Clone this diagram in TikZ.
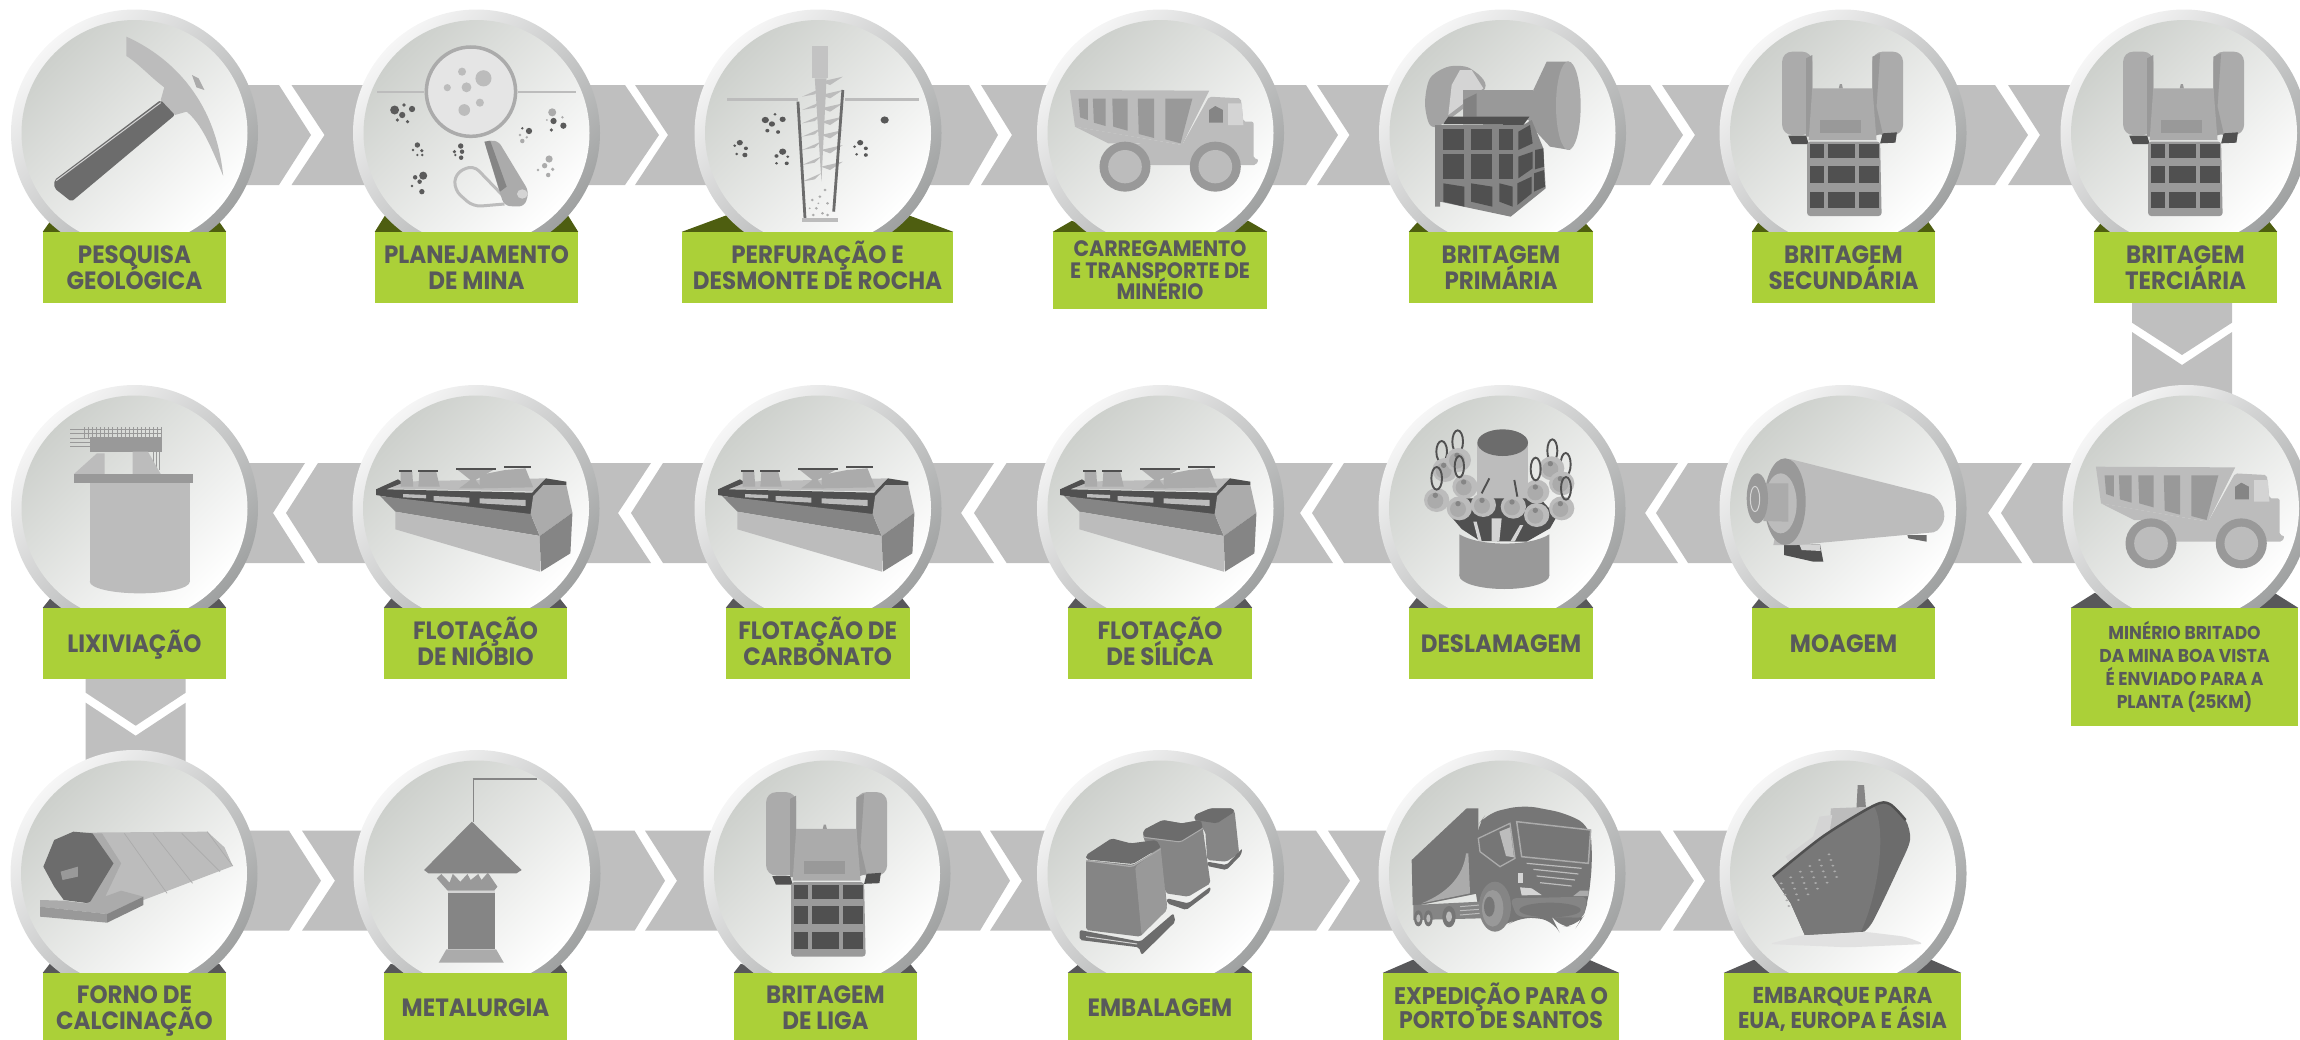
\documentclass[tikz,border=0pt]{standalone}
\usepackage{fontspec}
\usetikzlibrary{calc}
\newfontfamily\labf[FakeStretch=0.92]{Poppins}
\definecolor{bandc}{HTML}{BFBFBF}
\definecolor{greenc}{HTML}{ABD038}
\definecolor{textc}{HTML}{58595B}
\definecolor{olive}{HTML}{4E5E10}
\definecolor{darkf}{HTML}{58585A}
\definecolor{ringa}{HTML}{F6F6F6}
\definecolor{ringb}{HTML}{9FA1A1}
\definecolor{inna}{HTML}{CDD0CC}
\definecolor{innb}{HTML}{FFFFFF}
\definecolor{g1}{HTML}{505050}
\definecolor{g2}{HTML}{6C6C6C}
\definecolor{g3}{HTML}{858585}
\definecolor{g4}{HTML}{999999}
\definecolor{g5}{HTML}{ABABAB}
\definecolor{g6}{HTML}{BCBCBC}
\definecolor{g7}{HTML}{D4D4D4}
\definecolor{trk}{HTML}{767676}
\pgfdeclarelayer{back}
\pgfdeclarelayer{mid}
\tikzset{
  zm/.style n args={3}{shift={(#1,#2)},xscale=1/#3,yscale=1/3},
  bandf/.style={fill=bandc},
  discout/.style={circle,inner sep=0pt,minimum size=247pt,shade,top color=ringa,bottom color=ringb,shading angle=45},
  discin/.style={circle,inner sep=0pt,minimum size=226pt,shade,top color=inna,bottom color=innb,shading angle=45},
  labbox/.style={fill=greenc,inner sep=0pt,text=textc,align=center},
}
\newcommand\mydisc[3]{\node[discout] (#1) at (#2,#3) {}; \node[discin] (#1i) at (#1) {};}
\newcommand\mylab[8]{\node[labbox,minimum width={(#3)-(#2)},minimum height={(#5)-(#4)},
  font={\labf\bfseries\fontsize{#6}{#7}\selectfont}] (#1) at ({((#2)+(#3))/2},{((#4)+(#5))/2}) {#8};}
\newcommand\capln[1]{\rule{0pt}{0.7em}\smash{#1}}
\newcommand\chev[8]{\fill[bandf] (#1 |- 0,#3) -- (#5,#3) -- (#6,{((#3)+(#4))/2}) -- (#5,#4) -- (#1 |- 0,#4) -- cycle;
  \fill[bandf] (#2 |- 0,#3) -- (#7,#3) -- (#8,{((#3)+(#4))/2}) -- (#7,#4) -- (#2 |- 0,#4) -- cycle;}
\newcommand\downarr[9]{\fill[bandf] (#3,0 |- #1.south) -- (#3,#6) -- (#5,#7) -- (#4,#6) -- (#4,0 |- #1.south) -- cycle;
  \fill[bandf] (#3,0 |- #2) -- (#3,#8) -- (#5,#9) -- (#4,#8) -- (#4,0 |- #2) -- cycle;}
\newcommand\folds[4]{\fill[#1] (#2.north west) -- ++(#3,-#4) -- ++(30,#4) -- cycle;
  \fill[#1] (#2.north east) -- ++(-#3,-#4) -- ++(-30,#4) -- cycle;}
\newcommand\spots[2]{\foreach \a/\b/\c in {#2} \fill[#1] (\a,\b) ellipse ({\c} and {1.35*\c});}
\newcommand\crusher[2]{\begin{scope}[zm={1500+#1}{#2}{1.96}]
  \fill[g5,rounded corners=10pt] (553,155) -- (612,155) -- (612,405) -- (553,405) -- cycle;
  \fill[g5,rounded corners=10pt] (730,155) -- (790,155) -- (790,405) -- (730,405) -- cycle;
  \fill[g4] (600,175) -- (612,165) -- (612,410) -- (600,410) -- cycle;
  \fill[g4] (730,170) -- (745,160) -- (738,320) -- (750,400) -- (730,410) -- cycle;
  \fill[g5] (612,265) -- (730,265) -- (738,420) -- (605,420) -- cycle;
  \fill[g4] (628,360) rectangle (708,400);
  \fill[g4] (664,265) -- (666,252) -- (670,252) -- (672,265) -- cycle;
  \fill[g1] (565,407) -- (600,407) -- (605,432) -- (572,432) -- cycle;
  \fill[g1] (750,400) -- (778,397) -- (775,428) -- (745,430) -- cycle;
  \fill[g5!90!black,rounded corners=3pt] (602,425) -- (745,425) -- (748,648) -- (602,648) -- cycle;
  \foreach \xa/\xb in {607/635,642/695,703/742} \foreach \ya/\yb in {432/475,497/550,575/625}
    \fill[g1] (\xa,\ya) rectangle (\xb,\yb);
\end{scope}}
\newcommand\flotation[1]{\begin{scope}[zm={#1}{370}{1.96}]
  \fill[g6] (780,335) -- (1070,325) -- (1045,365) -- (755,355) -- cycle;
  \fill[g1] (737,358) -- (780,328) -- (790,338) -- (757,358) -- (1043,368) -- (1070,325) -- (1110,335) -- (1110,345) -- (1065,345) -- (1045,440) -- (775,385) -- (737,375) -- cycle;
  \fill[g5] (785,305) -- (808,305) -- (810,350) -- (785,350) -- cycle;
  \fill[g5] (822,305) -- (855,305) -- (862,350) -- (820,350) -- cycle;
  \fill[g5] (895,297) -- (970,297) -- (932,330) -- (945,355) -- (900,355) -- (922,330) -- cycle;
  \fill[g5] (940,355) -- (940,315) -- (990,300) -- (1030,295) -- (1045,352) -- cycle;
  \foreach \xa/\xb/\yy in {782/808/302,820/858/302,893/972/296,988/1040/290} \fill[g1] (\xa,\yy-2) rectangle (\xb,\yy+3);
  \fill[g3] (745,378) -- (1040,432) -- (1058,498) -- (775,425) -- cycle;
  \fill[g6] (775,425) -- (1058,498) -- (1058,605) -- (775,478) -- cycle;
  \fill[g5] (1065,345) -- (1110,345) -- (1122,428) -- (1058,498) -- (1040,432) -- (1045,378) -- cycle;
  \fill[g3] (1058,498) -- (1122,428) -- (1118,550) -- (1060,605) -- cycle;
  \fill[g6] (790,372) -- (835,375) -- (835,385) -- (790,382) -- cycle;
  \fill[g6] (850,378) -- (920,383) -- (920,398) -- (850,392) -- cycle;
  \fill[g6] (940,385) -- (1030,390) -- (1030,408) -- (940,400) -- cycle;
\end{scope}}
\newcommand\hauler[2]{\begin{scope}[zm={700+#1}{#2}{1.96}]
  \fill[g6,rounded corners=2pt] (998,290) -- (1060,295) -- (1065,365) -- (1085,365) -- (1085,475) -- (1095,478) -- (1090,495) -- (870,495) -- (845,430) -- (945,435) -- cycle;
  \fill[g7] (1035,310) -- (1062,310) -- (1065,375) -- (1035,375) -- cycle;
  \fill[g6] (725,270) -- (998,272) -- (945,435) -- (735,380) -- cycle;
  \fill[g6] (735,380) -- (945,435) -- (965,470) -- (860,430) -- (800,430) -- cycle;
  \fill[g4] (742,296) -- (760,296) -- (760,360) -- (745,352) -- cycle;
  \fill[g4] (770,296) -- (795,296) -- (795,378) -- (772,368) -- cycle;
  \fill[g4] (808,296) -- (838,296) -- (838,392) -- (810,380) -- cycle;
  \fill[g4] (858,296) -- (890,296) -- (890,414) -- (860,402) -- cycle;
  \fill[g4] (912,296) -- (965,296) -- (942,430) -- (912,418) -- cycle;
  \fill[g3] (998,368) -- (998,330) -- (1010,318) -- (1025,330) -- (1025,368) -- cycle;
  \fill[g4] (833,500) ellipse (50 and 75);
  \fill[g6] (833,500) ellipse (33 and 50);
  \fill[g4] (1010,500) ellipse (50 and 75);
  \fill[g6] (1010,500) ellipse (33 and 50);
\end{scope}}
\begin{document}
\begin{tikzpicture}[x=1pt,y=-1pt]
\pgfsetlayers{back,mid,main}
\useasboundingbox (0,0) rectangle (2300,1039);
\clip (0,0) rectangle (2300,1039);
\begin{pgfonlayer}{mid}
\mydisc{a1}{134.5}{133}\mydisc{a2}{476.5}{133}\mydisc{a3}{818}{133}\mydisc{a4}{1160.5}{133}
\mydisc{a5}{1502.5}{133}\mydisc{a6}{1843}{133}\mydisc{a7}{2184}{133}
\mydisc{b1}{134.5}{508.5}\mydisc{b2}{476}{508.5}\mydisc{b3}{818}{508.5}\mydisc{b4}{1160.5}{508.5}
\mydisc{b5}{1502}{508.5}\mydisc{b6}{1843}{508.5}\mydisc{b7}{2186}{508.5}
\mydisc{c1}{134}{873.5}\mydisc{c2}{477}{873.5}\mydisc{c3}{827}{873.5}\mydisc{c4}{1160.5}{873.5}
\mydisc{c5}{1502}{873.5}\mydisc{c6}{1843}{873.5}
% pick
\begin{scope}[zm={0}{0}{2.24}]
  \fill[g6] (283,110) .. controls (350,150) and (480,260) .. (500,528) .. controls (470,430) and (450,370) .. (418,335) -- (392,345) -- (360,300) -- (368,262) .. controls (340,235) and (310,190) .. (283,168) -- cycle;
  \fill[g4!50!g6] (430,225) -- (445,235) -- (458,270) -- (440,262) -- cycle;
  \fill[g2,rounded corners=2pt] (360,300) -- (392,345) -- (160,605) -- (122,565) -- (122,540) -- cycle;
  \draw[g7,line width=1pt] (126,542) -- (360,308);
\end{scope}
% magnifier
\begin{scope}[zm={0}{0}{2.24}]
  \draw[g6,line width=2.5pt] (845,276) -- (950,276) (1160,276) -- (1290,276);
  \draw[g5,fill=g7!60!white,line width=3.5pt] (1055,275) ellipse (100 and 134);
  \spots{g6}{1083/235/18,1045/262/11,1035/215/9,1002/263/8,1040/330/13,1075/308/9}
  \draw[g6,line width=3pt,rounded corners=8pt] (1125,585) -- (1060,495) -- (1020,520) -- (1018,570) -- (1060,620) -- (1130,612);
  \fill[g5,rounded corners=6pt] (1085,425) -- (1115,420) -- (1185,575) -- (1175,620) -- (1130,618) -- (1120,580) -- cycle;
  \fill[g3] (1085,425) -- (1098,422) -- (1135,560) -- (1120,575) -- cycle;
  \fill[g7] (1170,582) ellipse (12 and 14);
  \spots{g1!60!g2}{884/330/10,905/315/4,923/327/7,901/345/7,890/360/4,913/365/4,935/435/6,925/450/3,945/452/4,935/465/3,946/465/3,1032/438/6,1018/455/4,1035/455/5,1020/465/3,1033/473/5,948/527/9,930/532/5,940/545/5,923/558/3,945/575/6,1185/393/7,1170/385/3,1240/363/7,1262/377/7,1235/390/4}
  \spots{g5}{1165/405/3,1170/423/5,1180/412/3,1237/337/9,1225/360/2,1260/352/3,1230/477/8,1220/497/6,1238/508/4,1205/510/3,1228/525/5}
\end{scope}
% drill
\begin{scope}[zm={700}{0}{1.96}]
  \draw[g6,line width=2.5pt] (53,299) -- (192,299) (285,299) -- (430,299);
  \fill[g6!90!white] (220,138) rectangle (250,235);
  \fill[g6] (225,235) -- (248,235) -- (238,545) -- cycle;
  \foreach \yy in {265,305,345,385,425,470,520} {
    \fill[g6] (237,\yy) -- (200,\yy+25) -- (225,\yy+18) -- cycle;
    \fill[g6] (237,\yy-20) -- (280,\yy-35) -- (255,\yy-10) -- cycle;}
  \draw[g2,line width=2.8pt] (192,305) -- (206,660) (280,270) -- (262,635);
  \fill[g6] (200,655) rectangle (270,666);
  \spots{g5}{220/600/3,235/590/3,245/570/3,228/625/3,250/610/3,240/640/3,222/645/3,250/645/3,215/625/2,232/610/2}
  \spots{g1!70!g2}{128/360/7,147/343/3,162/358/6,141/372/6,132/392/4,153/396/4,78/428/6,68/437/3,90/445/4,72/462/3,88/465/5,162/455/7,150/468/4,172/470/3,150/490/3,170/490/4,362/360/8,314/428/6,303/440/3,325/445/4,307/463/3,325/465/4}
\end{scope}
\hauler{0}{0}
\hauler{1026}{376.7}
% primary crusher
\begin{scope}[zm={1380}{10}{3}]
  \fill[g4!90!white] plot[smooth cycle] coordinates {(150,345) (135,280) (150,205) (205,170) (270,175) (315,235) (190,340)};
  \fill[g7] (215,225) -- (240,180) -- (275,180) -- (310,235) -- (205,315) -- cycle;
  \fill[g4] (250,240) -- (460,240) -- (460,330) -- (250,330) -- cycle;
  \fill[g4!85!black] (250,270) -- (290,250) -- (290,320) -- (250,320) -- cycle;
  \fill[g4] (460,240) -- (500,155) -- (565,155) -- (600,320) -- (570,420) -- (510,410) -- (445,340) -- cycle;
  \fill[g5] (565,287) ellipse (37 and 133);
  \fill[g3] (165,345) -- (430,345) -- (455,330) -- (490,415) -- (497,535) -- (392,620) -- (180,575) -- (180,590) -- (165,590) -- cycle;
  \fill[g1] (190,342) -- (205,320) -- (448,320) -- (430,345) -- cycle;
  \foreach \xa/\xb in {190/253,273/337,358/398} {
    \fill[g1] (\xa,357) rectangle (\xb,420);
    \fill[g1] (\xa,432) rectangle (\xb,508);
    \fill[g1] (\xa,520) -- (\xb,530) -- (\xb,590) -- (\xa,575) -- cycle;}
  \fill[g1] (415,365) -- (450,345) -- (458,400) -- (415,420) -- cycle;
  \fill[g1] (415,440) -- (458,425) -- (458,475) -- (415,505) -- cycle;
  \fill[g1] (412,520) -- (455,500) -- (455,550) -- (412,585) -- cycle;
  \fill[g1] (465,420) -- (490,415) -- (492,470) -- (465,478) -- cycle;
  \fill[g1] (462,490) -- (492,480) -- (495,530) -- (462,545) -- cycle;
\end{scope}
\crusher{0}{0}
\crusher{341}{0}
% leaching
\begin{scope}[zm={0}{370}{1.96}]
  \foreach \yy in {178,190,205,218,230} \draw[g4,line width=.6pt] (138,\yy) -- (318,\yy);
  \foreach \xx in {165,173,...,318} \draw[g4,line width=.6pt] (\xx,172) -- (\xx,205);
  \foreach \xx in {300,306,312} \draw[g4,line width=.6pt] (\xx,240) -- (\xx,300);
  \fill[g4] (177,202) rectangle (318,245);
  \fill[g6] (145,312) -- (190,250) -- (205,250) -- (205,312) -- cycle;
  \fill[g6] (260,245) -- (290,245) -- (315,312) -- (260,312) -- cycle;
  \fill[g6] (274,635) ellipse (98 and 35);
  \fill[g6] (176,340) rectangle (372,635);
  \fill[g4] (145,312) rectangle (378,340);
\end{scope}
\flotation{0}
\flotation{342}
\flotation{684}
% hydrocyclones
\begin{scope}[zm={1380}{385}{3}]
  \fill[g6] (292,175) rectangle (445,450);
  \fill[g2] (368,173) ellipse (76 and 40);
  \fill[g1] (205,385) -- (245,432) -- (300,468) -- (440,470) -- (510,430) -- (530,395) -- (480,340) -- (250,340) -- cycle;
  \fill[g7] (280,410) -- (290,410) -- (305,468) -- (295,468) -- cycle;
  \fill[g7] (335,400) -- (365,400) -- (358,468) -- (335,468) -- cycle;
  \fill[g7] (420,420) -- (430,420) -- (405,468) -- (392,468) -- cycle;
  \fill[g4] (373,572) ellipse (135 and 40);
  \fill[g4] (238,448) .. controls (300,485) and (450,485) .. (508,448) -- (508,572) -- (238,572) -- cycle;
  \draw[g1,line width=1.9pt] (185,200) ellipse (16 and 32) (233,170) ellipse (16 and 34) (517,197) ellipse (15 and 34) (557,238) ellipse (15 and 34);
  \foreach \xx/\yy in {195/255,235/225,515/250,545/295,170/345,255/305,470/320,238/370,310/360,400/365,470/390,545/370} {
    \fill[g6] (\xx,\yy) ellipse (38 and 36);
    \fill[g5] (\xx-4,\yy+2) ellipse (24 and 24);
    \fill[g3] (\xx-4,\yy-14) ellipse (8 and 8);}
  \draw[g1,line width=1.9pt] (170,280) ellipse (16 and 34) (238,245) ellipse (14 and 32) (467,252) ellipse (15 and 34) (558,310) ellipse (15 and 34);
  \draw[g1,line width=1.9pt] (305,325) -- (328,280) (412,335) -- (403,285);
\end{scope}
% ball mill
\begin{scope}[zm={1720}{385}{3}]
  \fill[g1] (192,480) -- (300,478) -- (310,530) -- (280,530) -- (192,510) -- cycle;
  \fill[g7] (238,478) -- (300,478) -- (302,498) -- (245,495) -- cycle;
  \fill[g2] (562,450) -- (620,450) -- (620,470) -- (565,460) -- cycle;
  \fill[g6] (210,222) -- (630,328) .. controls (665,340) and (685,390) .. (665,420) .. controls (655,435) and (650,440) .. (640,442) -- (230,480) -- (160,480) -- cycle;
  \fill[g4] (195,350) ellipse (62 and 130);
  \fill[g6] (182,355) ellipse (48 and 90);
  \fill[g5] (130,295) -- (205,295) -- (205,410) -- (130,408) -- cycle;
  \fill[g4] (112,340) ellipse (32 and 75);
  \draw[g7,line width=1pt] (105,342) ellipse (14 and 38);
\end{scope}
\crusher{-1016}{740.5}
% kiln
\begin{scope}[zm={0}{740}{1.568}]
  \fill[g6] (115,278) -- (325,275) -- (352,322) -- (365,378) -- (170,520) -- (130,480) -- cycle;
  \draw[g5,line width=.7pt] (195,280) -- (262,460) (240,280) -- (302,430) (285,280) -- (345,395) (325,275) -- (365,378);
  \fill[g5] (145,280) -- (178,370) -- (140,490) -- (165,470) -- (190,370) -- (160,280) -- cycle;
  \fill[g2] (115,275) -- (145,280) -- (178,370) -- (140,490) -- (100,480) -- (85,440) -- (68,380) -- (85,300) -- cycle;
  \fill[g4] (95,395) -- (122,380) -- (122,410) -- (98,420) -- cycle;
  \fill[g5] (63,480) -- (100,482) -- (135,490) -- (190,452) -- (225,470) -- (168,522) -- (63,500) -- cycle;
  \fill[g4] (63,500) -- (168,522) -- (168,548) -- (63,530) -- cycle;
  \fill[g3] (168,522) -- (225,470) -- (225,495) -- (168,548) -- cycle;
\end{scope}
% furnace
\begin{scope}[zm={0}{740}{1.568}]
  \draw[g3,line width=1pt] (742,245) -- (742,117);
  \draw[g3,line width=1.8pt] (741,117) -- (842,117);
  \fill[g3] (740,245) -- (818,390) -- (810,400) -- (672,400) -- (665,390) -- cycle;
  \fill[g4] (685,415) -- (692,402) -- (705,428) -- (710,402) -- (722,425) -- (733,402) -- (738,420) -- (750,402) -- (755,420) -- (765,398) -- (780,440) -- (775,452) -- (702,452) -- cycle;
  \fill[g7] (702,452) rectangle (776,459);
  \fill[g3] (702,459) rectangle (776,628);
  \fill[g5] (700,628) -- (778,628) -- (790,668) -- (688,668) -- cycle;
\end{scope}
% bags
\begin{scope}[zm={1000}{740}{1.568},rounded corners=2pt]
  \fill[g3] (305,240) -- (305,225) -- (330,205) -- (365,205) -- (368,215) -- (375,340) -- (355,365) -- (325,360) -- (322,275) -- cycle;
  \fill[g2] (305,240) -- (305,225) -- (330,205) -- (365,205) -- (368,215) -- (340,250) -- cycle;
  \fill[g2] (325,365) -- (355,375) -- (380,325) -- (378,345) -- (355,390) -- (325,378) -- cycle;
  \fill[g3] (225,295) -- (225,270) -- (255,240) -- (285,250) -- (315,240) -- (318,265) -- (330,430) -- (295,470) -- (260,460) -- (255,400) -- cycle;
  \fill[g2] (225,270) -- (255,240) -- (285,250) -- (315,240) -- (318,265) -- (283,305) -- (225,290) -- cycle;
  \draw[g5,line width=1pt] (225,292) -- (283,306) -- (318,265);
  \fill[g2] (262,475) -- (295,490) -- (330,440) -- (330,455) -- (292,510) -- (262,490) -- cycle;
  \fill[g3] (135,360) -- (208,375) -- (252,325) -- (262,500) -- (220,590) -- (135,570) -- cycle;
  \fill[g4] (212,380) -- (252,325) -- (262,510) -- (222,585) -- cycle;
  \fill[g2] (135,345) -- (175,295) -- (205,310) -- (245,300) -- (252,322) -- (208,372) -- (135,358) -- cycle;
  \draw[g5,line width=1.2pt] (135,362) -- (207,380) -- (252,326);
  \fill[g2] (125,570) -- (220,605) -- (272,520) -- (275,545) -- (222,645) -- (218,622) -- (125,600) -- cycle;
  \draw[g7,line width=1pt] (135,590) -- (215,612);
\end{scope}
% truck
\begin{scope}[zm={1380}{750}{3}]
  \fill[trk] (95,330) -- (260,175) -- (295,175) -- (295,430) -- (120,465) -- (98,465) -- cycle;
  \fill[g5] (258,310) .. controls (250,380) and (200,430) .. (125,460) -- (270,430) -- (265,310) -- cycle;
  \fill[trk,rounded corners=14pt] (285,440) -- (290,230) -- (320,190) -- (430,165) -- (560,190) -- (632,230) -- (637,340) -- (625,450) -- (610,500) -- (590,530) -- (530,530) -- (520,510) -- (420,500) -- (375,530) -- (320,530) -- (305,500) -- cycle;
  \fill[g3] (100,465) -- (300,455) -- (305,505) -- (100,510) -- cycle;
  \draw[g6,line width=1pt] (240,470) -- (300,465) (240,482) -- (300,478) (240,495) -- (300,490);
  \fill[trk] (115,505) ellipse (13 and 24);
  \fill[trk] (145,505) ellipse (13 and 24);
  \fill[trk] (207,500) ellipse (20 and 32);
  \fill[g6] (115,505) ellipse (6 and 12) (145,505) ellipse (6 and 12) (207,500) ellipse (9 and 16);
  \draw[g5,line width=1.5pt,fill=trk] (410,215) -- (632,240) -- (625,340) -- (425,320) -- cycle;
  \draw[g5,line width=1.3pt,fill=trk] (295,265) -- (390,220) -- (405,325) -- (360,350) -- (300,305) -- cycle;
  \fill[g6] (358,245) -- (390,232) -- (402,322) -- (378,318) -- cycle;
  \draw[g6,line width=1.2pt] (440,340) -- (605,355) (460,358) -- (595,372) (470,378) -- (585,390) (480,398) -- (575,408);
  \fill[g7] (415,368) rectangle (428,398);
  \fill[g7] (420,412) -- (455,415) -- (485,435) -- (425,436) -- cycle;
  \fill[g5] (580,438) -- (600,422) -- (626,422) -- (626,438) -- cycle;
  \fill[g3,rounded corners=6pt] (390,445) -- (622,440) -- (612,503) -- (410,500) -- cycle;
  \fill[g3] (345,470) ellipse (48 and 75);
  \fill[g4] (338,475) ellipse (32 and 55);
  \fill[trk] (328,470) ellipse (16 and 30);
  \fill[trk] (510,480) ellipse (92 and 22);
\end{scope}
% ship
\begin{scope}[zm={1000}{740}{1.568}]
  \fill[g7!70!white,rounded corners=6pt] (1205,612) -- (1260,585) -- (1355,575) -- (1420,590) -- (1450,612) -- (1330,622) -- cycle;
  \fill[g3] (1345,135) -- (1355,135) -- (1358,205) -- (1343,205) -- cycle;
  \fill[g6] (1303,205) -- (1370,200) -- (1300,290) -- cycle;
  \fill[g7] (1285,230) -- (1305,225) -- (1300,285) -- (1240,375) -- (1232,350) -- (1275,290) -- cycle;
  \fill[g2] plot[smooth] coordinates {(1212,410) (1290,290) (1370,195) (1395,190) (1420,240) (1427,300) (1410,380) (1370,540) (1355,575)} -- (1262,585) -- (1240,490) -- cycle;
  \fill[trk!85!g3] (1212,410) -- (1290,290) -- (1370,197) .. controls (1390,260) and (1380,450) .. (1350,575) -- (1262,585) -- (1240,490) -- cycle;
  \draw[g1,line width=2.5pt] plot[smooth] coordinates {(1212,410) (1290,290) (1370,197) (1395,192) (1420,240)};
  \foreach \xx/\yy in {1225/430,1240/412,1255/395,1270/378,1285/360,1300/343} \foreach \k in {0,1,2,3,4} \fill[g5] (\xx+\k*3,\yy+\k*17) ellipse (2.5 and 3);
\end{scope}
\end{pgfonlayer}
% labels
\mylab{l1}{43}{226}{232}{303}{25}{26}{\capln{PESQUISA}\\\capln{GEOLÓGICA}}
\mylab{l2}{375}{578}{232}{303}{25}{26}{\capln{PLANEJAMENTO}\\\capln{DE MINA}}
\mylab{l3}{682}{953}{232}{303}{25}{26}{\capln{PERFURAÇÃO E}\\\capln{DESMONTE DE ROCHA}}
\mylab{l4}{1053}{1267}{232}{309}{22.3}{21.5}{\capln{CARREGAMENTO}\\\capln{E TRANSPORTE DE}\\\capln{MINÉRIO}}
\mylab{l5}{1409}{1593}{232}{303}{25}{26}{\capln{BRITAGEM}\\\capln{PRIMÁRIA}}
\mylab{l6}{1752}{1935}{232}{303}{25}{26}{\capln{BRITAGEM}\\\capln{SECUNDÁRIA}}
\mylab{l7}{2094}{2277}{232}{303}{25}{26}{\capln{BRITAGEM}\\\capln{TERCIÁRIA}}
\mylab{m1}{43}{226}{608}{679}{25}{26}{\capln{LIXIVIAÇÃO}}
\mylab{m2}{384}{567}{608}{679}{25}{26}{\capln{FLOTAÇÃO}\\\capln{DE NIÓBIO}}
\mylab{m3}{726}{909.5}{608}{679}{25}{26}{\capln{FLOTAÇÃO DE}\\\capln{CARBONATO}}
\mylab{m4}{1068}{1252}{608}{679}{25}{26}{\capln{FLOTAÇÃO}\\\capln{DE SÍLICA}}
\mylab{m5}{1409}{1593}{608}{679}{25}{26}{\capln{DESLAMAGEM}}
\mylab{m6}{1752}{1935}{608}{679}{25}{26}{\capln{MOAGEM}}
\mylab{m7}{2071}{2298}{608}{726}{18.6}{23}{\capln{MINÉRIO BRITADO}\\\capln{DA MINA BOA VISTA}\\\capln{É ENVIADO PARA A}\\\capln{PLANTA (25KM)}}
\mylab{n1}{43}{226}{973}{1043}{25}{26}{\capln{FORNO DE}\\\capln{CALCINAÇÃO}}
\mylab{n2}{384}{567}{973}{1043}{25}{26}{\capln{METALURGIA}}
\mylab{n3}{734}{917}{973}{1043}{25}{26}{\capln{BRITAGEM}\\\capln{DE LIGA}}
\mylab{n4}{1068}{1252}{973}{1043}{25}{26}{\capln{EMBALAGEM}}
\mylab{n5}{1383}{1619}{973}{1043}{24}{24.5}{\capln{EXPEDIÇÃO PARA O}\\\capln{PORTO DE SANTOS}}
\mylab{n6}{1724}{1961}{973}{1043}{23}{24.5}{\capln{EMBARQUE PARA}\\\capln{EUA, EUROPA E ÁSIA}}
\begin{pgfonlayer}{back}
\chev{a1}{a2}{85}{185}{279}{311}{291.5}{324.5}
\chev{a2}{a3}{85}{185}{625}{659}{635}{668}
\chev{a3}{a4}{85}{185}{969}{998}{981}{1012}
\chev{a4}{a5}{85}{185}{1306}{1338}{1317}{1349.5}
\chev{a5}{a6}{85}{185}{1650}{1683}{1662}{1695}
\chev{a6}{a7}{85}{185}{1995}{2028}{2008}{2040}
\chev{b1}{b2}{463}{563}{305}{273}{318}{286}
\chev{b2}{b3}{463}{563}{651}{618}{663}{631}
\chev{b3}{b4}{463}{563}{994}{961}{1006.6}{974}
\chev{b4}{b5}{463}{563}{1333}{1300}{1344}{1312}
\chev{b5}{b6}{463}{563}{1678}{1645}{1688}{1656}
\chev{b6}{b7}{463}{563}{2022}{1988}{2033}{2001}
\chev{c1}{c2}{830.7}{930.7}{289}{321}{302}{335}
\chev{c2}{c3}{830.7}{930.7}{634.6}{665}{645}{677}
\chev{c3}{c4}{830.7}{930.7}{980}{1010}{990}{1022}
\chev{c4}{c5}{830.7}{930.7}{1316}{1350}{1328}{1360}
\chev{c5}{c6}{830.7}{930.7}{1660}{1694}{1673}{1705}
\downarr{l7}{b7}{2132}{2232}{2182}{322.7}{355}{332}{365}
\downarr{m1}{c1}{85.7}{185.7}{135.7}{692.7}{725.7}{702.7}{735.7}
\folds{olive}{l1}{7}{10}\folds{olive}{l2}{10}{16}\folds{olive}{l3}{46}{17}\folds{olive}{l4}{19}{11}
\folds{olive}{l5}{9}{10}\folds{olive}{l6}{7}{10}\folds{olive}{l7}{8}{10}
\folds{darkf}{m1}{8}{10}\folds{darkf}{m2}{8}{10}\folds{darkf}{m3}{8}{10}\folds{darkf}{m4}{8}{10}
\folds{darkf}{m5}{8}{10}\folds{darkf}{m6}{8}{10}\folds{darkf}{m7}{24}{15}
\folds{darkf}{n1}{7}{9}\folds{darkf}{n2}{7}{9}\folds{darkf}{n3}{7}{9}\folds{darkf}{n4}{14}{11}
\folds{darkf}{n5}{30}{13}\folds{darkf}{n6}{30}{13}
\end{pgfonlayer}
\end{tikzpicture}
\end{document}
